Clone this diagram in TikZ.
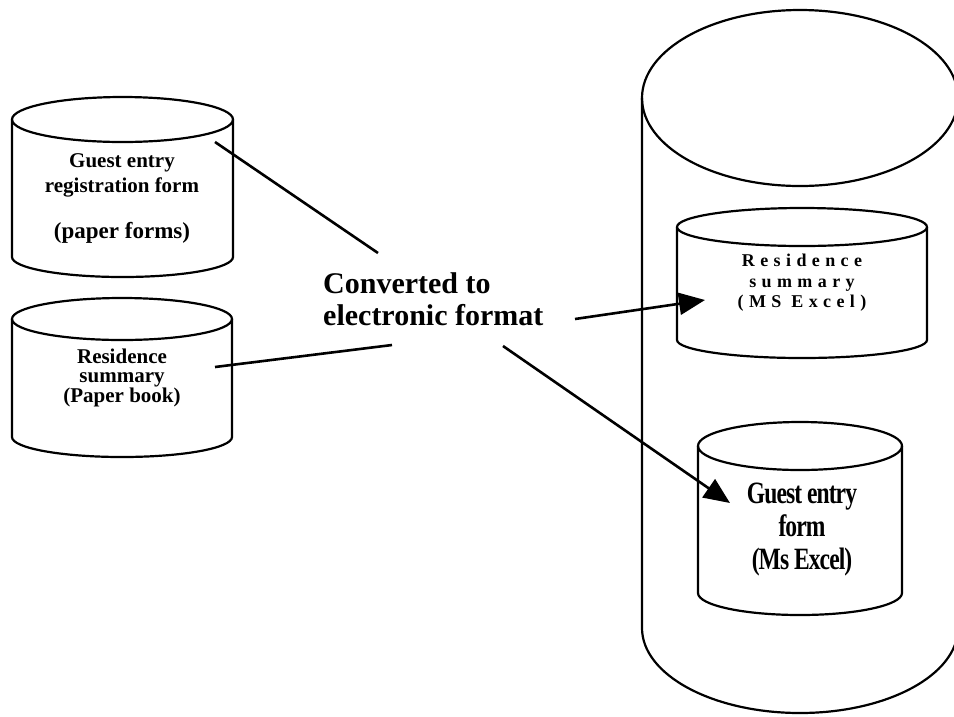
\documentclass[tikz,border=0pt]{standalone}
\usepackage{fontspec}
\setmainfont{Liberation Serif}
\newfontfamily\condfont[FakeStretch=0.76,LetterSpace=-3]{Liberation Serif}
\newfontfamily\spacedfont[LetterSpace=30]{Liberation Serif}
\usetikzlibrary{arrows.meta}
\newcommand\mycyl[6]{%
  \draw[cylline] ({#1-#2},#3) -- ({#1-#2},#5) arc[start angle=180,end angle=360,x radius=#2pt,y radius=#6pt] -- ({#1+#2},#3);
  \draw[cylline] (#1,#3) ellipse[x radius=#2pt,y radius=#4pt];}
\tikzset{
  cylline/.style={line width=2.2pt},
  conn/.style={line width=2.6pt},
  arr/.style={conn,-{Triangle[length=26pt,width=22pt]}},
  lbl/.style={inner sep=0pt,align=center}
}
\begin{document}
\begin{tikzpicture}[x=1pt,y=-1pt]
\useasboundingbox (0,0) rectangle (954,716);
% big store
\mycyl{800}{158}{98}{88}{628}{85}
% left cylinders
\mycyl{122.5}{110.5}{119.5}{22.5}{257}{20}
\mycyl{122}{110}{319}{21}{437}{20}
% inner cylinders
\mycyl{802}{125}{227}{19}{340}{18}
\mycyl{800}{102}{446}{24}{593}{22}
% labels
\node[lbl,font=\fontsize{21}{25}\selectfont\bfseries] (g1) at (122,175) {Guest entry\\registration form};
\node[lbl,font=\fontsize{23}{27}\selectfont\bfseries] (g1b) at (122,233) {(paper forms)};
\node[lbl,font=\fontsize{21}{19}\selectfont\bfseries] (r1) at (122,378) {Residence\\summary\\(Paper book)};
\node[lbl,align=left,anchor=west,font=\fontsize{30}{32}\selectfont\bfseries] (conv) at (323,299) {Converted to\\electronic format};
\node[lbl,font=\spacedfont\fontsize{18}{20.5}\selectfont\bfseries] (r2) at (802,283) {Residence\\summary\\(MS Excel)};
\node[lbl,font=\condfont\fontsize{31}{33}\selectfont\bfseries] (g2) at (802,530) {Guest entry\\form\\(Ms Excel)};
% connector ends
\coordinate (a1) at (215,142); \coordinate (a2) at (378,253);
\coordinate (b1) at (215,367); \coordinate (b2) at (392,345);
\coordinate (c1) at (575,319); \coordinate (c2) at (705,300);
\coordinate (d1) at (503,346); \coordinate (d2) at (730,503);
\draw[conn] (a1) -- (a2);
\draw[conn] (b1) -- (b2);
\draw[arr] (c1) -- (c2);
\draw[arr] (d1) -- (d2);
\end{tikzpicture}
\end{document}
